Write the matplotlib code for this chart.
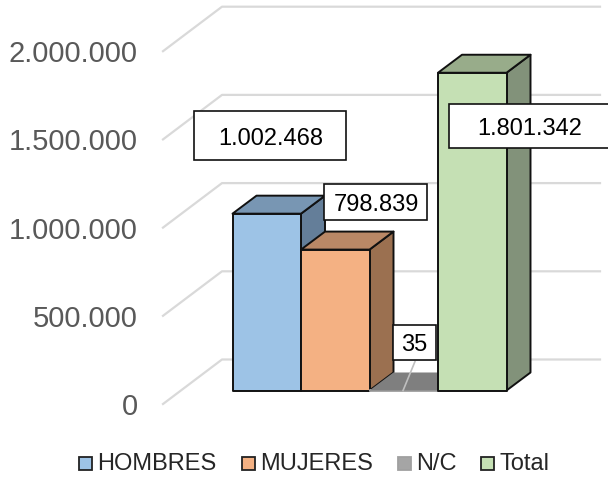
import matplotlib

matplotlib.use("Agg")
import matplotlib.pyplot as plt
from matplotlib.patches import Polygon, Rectangle
from matplotlib.transforms import Affine2D

plt.rcParams["font.family"] = ["Liberation Sans", "DejaVu Sans"]

# datos
categories = ["HOMBRES", "MUJERES", "N/C", "Total"]
values = [1002468, 798839, 35, 1801342]
grid_values = [0, 500000, 1000000, 1500000, 2000000]
tick_labels = ["0", "500.000", "1.000.000", "1.500.000", "2.000.000"]

front_colors = ["#9DC3E6", "#F4B183", "#A5A5A5", "#C5E0B4"]
top_colors = ["#7896B3", "#BA8866", "#7F7F7F", "#98AC8A"]
side_colors = ["#647E99", "#9B7050", "#7F7F7F", "#82927A"]

W, H = 608, 480
X_PX = 68.5  # pixeles por barra
Y_PX = 88.2 / 500000  # pixeles por unidad
X0, Y0 = 232.5, 390.5  # origen de las barras

fig = plt.figure(figsize=(W / 100, H / 100), dpi=100)
ax = fig.add_axes([0, 0, 1, 1])
ax.set_xlim(-X0 / X_PX, (W - X0) / X_PX)
ax.set_ylim(-(H - Y0) / Y_PX, Y0 / Y_PX)
ax.axis("off")

# profundidad de las barras y del piso, en unidades de datos
bar_dx, bar_dy = 24 / X_PX, 18 / Y_PX
wall_front_x, wall_back_x, wall_end_x = (163 - X0) / X_PX, (222 - X0) / X_PX, (600 - X0) / X_PX
wall_front_dy, wall_back_dy = -13.5 / Y_PX, 31 / Y_PX

# transformacion en pixeles para cajas y leyenda
px = Affine2D().scale(1 / W, -1 / H).translate(0, 1) + fig.transFigure

# lineas de la cuadricula y etiquetas del eje
for v, label in zip(grid_values, tick_labels):
    ax.plot(
        [wall_front_x, wall_back_x, wall_end_x],
        [v + wall_front_dy, v + wall_back_dy, v + wall_back_dy],
        color="#D9D9D9",
        lw=1.6,
        zorder=1,
    )
    ax.text(
        (138 - X0) / X_PX,
        v + wall_front_dy - 11 / Y_PX,
        label,
        ha="right",
        va="baseline",
        fontsize=21,
        color="#595959",
    )

# barras
for i, (name, v, front, top, side) in enumerate(
    zip(categories, values, front_colors, top_colors, side_colors)
):
    is_nc = name == "N/C"
    z = 3 + i * 0.1
    ax.add_patch(
        Polygon(
            [(i + 1, 0), (i + 1 + bar_dx, bar_dy), (i + 1 + bar_dx, v + bar_dy), (i + 1, v)],
            fc=side,
            ec=side if is_nc else "#111111",
            lw=0 if is_nc else 1.4,
            zorder=z,
            joinstyle="round",
        )
    )
    ax.add_patch(
        Polygon(
            [(i, v), (i + bar_dx, v + bar_dy), (i + 1 + bar_dx, v + bar_dy), (i + 1, v)],
            fc=top,
            ec=top if is_nc else "#111111",
            lw=0 if is_nc else 1.4,
            zorder=z,
            joinstyle="round",
        )
    )
    ax.add_patch(
        Rectangle(
            (i, 0),
            1,
            v,
            fc=front,
            ec=front if is_nc else "#111111",
            lw=1.4,
            zorder=z - 0.05 if is_nc else z,
            joinstyle="round",
        )
    )

# linea guia de la etiqueta N/C
ax.plot([2.49, 2.664], [0, 29 / Y_PX], color="#BFBFBF", lw=1.2, zorder=4)

# cajas de etiquetas (izquierda, arriba, derecha, abajo en pixeles)
label_boxes = [(194, 111, 346, 160), (324, 184, 427, 220), (393, 325, 436, 360), (449, 104, 612, 148)]
label_text_x = [271, 376, 414.5, 529.5]
label_baselines = [145, 211, 351, 135]
for v, (x1, y1, x2, y2), tx, ty in zip(values, label_boxes, label_text_x, label_baselines):
    ax.add_patch(
        Rectangle((x1, y1), x2 - x1, y2 - y1, transform=px, fc="white", ec="#111111", lw=1.2, zorder=6)
    )
    ax.text(
        tx,
        ty,
        f"{v:,}".replace(",", "."),
        transform=px,
        ha="center",
        va="baseline",
        fontsize=17,
        color="black",
        zorder=7,
    )

# leyenda
legend_marker_x = [79, 242, 398, 481]
legend_text_x = [97, 260, 416, 500]
for name, color, mx, tx in zip(categories, front_colors, legend_marker_x, legend_text_x):
    ax.add_patch(
        Rectangle(
            (mx, 457),
            13,
            13,
            transform=px,
            fc=color,
            ec="#A0A0A0" if name == "N/C" else "#222222",
            lw=1.3,
            zorder=6,
        )
    )
    ax.text(tx, 470.5, name, transform=px, ha="left", va="baseline", fontsize=17, color="#262626")

fig.savefig("out.png", dpi=100)
